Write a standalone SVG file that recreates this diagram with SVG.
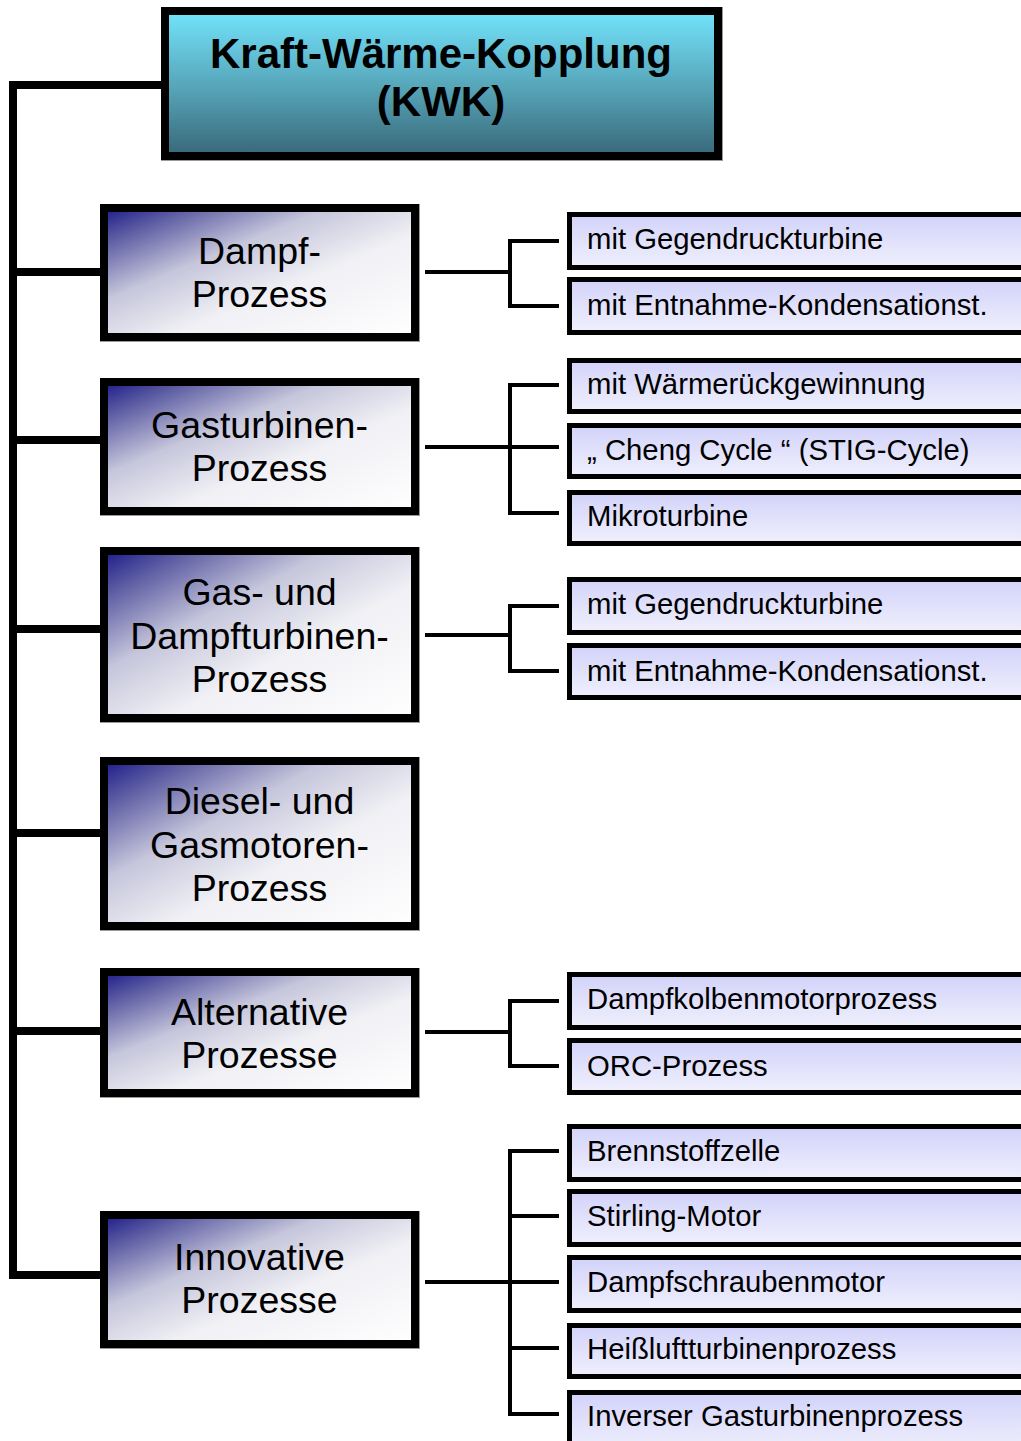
<svg xmlns="http://www.w3.org/2000/svg" width="1021" height="1441" viewBox="0 0 1021 1441">
<defs>
<linearGradient id="gTitle" x1="0" y1="0" x2="0" y2="1">
<stop offset="0" stop-color="#72e4fc"/>
<stop offset="0.5" stop-color="#58a8bc"/>
<stop offset="1" stop-color="#386878"/>
</linearGradient>
<linearGradient id="gMain" x1="0" y1="0" x2="1" y2="1">
<stop offset="0" stop-color="#1a1a8a"/>
<stop offset="0.13" stop-color="#5a5aa2"/>
<stop offset="0.36" stop-color="#c6c6dc"/>
<stop offset="0.6" stop-color="#f0f0f5"/>
<stop offset="1" stop-color="#ffffff"/>
</linearGradient>
<linearGradient id="gSub" x1="0" y1="0" x2="0" y2="1">
<stop offset="0" stop-color="#d2d2fa"/>
<stop offset="1" stop-color="#f0f0fd"/>
</linearGradient>
</defs>
<style>
.title{fill:url(#gTitle);stroke:#000;stroke-width:8}
.main{fill:url(#gMain);stroke:#000;stroke-width:8}
.sub{fill:url(#gSub);stroke:#000;stroke-width:5}
.shadow{fill:none;stroke:#9a9a9a;stroke-width:1}
.tt{font-family:"Liberation Sans",Arial,sans-serif;font-weight:bold;font-size:42px;text-anchor:middle;fill:#000}
.mt{font-family:"Liberation Sans",Arial,sans-serif;font-size:37.5px;text-anchor:middle;fill:#000}
.st{font-family:"Liberation Sans",Arial,sans-serif;font-size:29.3px;fill:#000}
.c{fill:none;stroke:#000;stroke-linecap:square}
.trunk{stroke-width:8}
.br{stroke-width:4}
</style>

<g id="connectors">
<path class="c trunk" d="M13 85 H161 M13 85 V1275 M13 272 H100 M13 440 H100 M13 629 H100 M13 833 H100 M13 1031 H100 M13 1275 H100"/>
<path class="c br" d="M427 272 H510 M510 241 V306 M510 241 H557 M510 306 H557"/>
<path class="c br" d="M427 447 H557 M510 385 V513 M510 385 H557 M510 513 H557"/>
<path class="c br" d="M427 635 H510 M510 606 V671 M510 606 H557 M510 671 H557"/>
<path class="c br" d="M427 1032 H510 M510 1001 V1066 M510 1001 H557 M510 1066 H557"/>
<path class="c br" d="M427 1282 H557 M510 1151 V1414 M510 1151 H557 M510 1216 H557 M510 1348 H557 M510 1414 H557"/>
</g>

<g id="kwk">
<rect class="shadow" x="161.5" y="7.5" width="561" height="153"/>
<rect class="title" x="165" y="11" width="553" height="145"/>
<text class="tt" x="441" y="68">Kraft-Wärme-Kopplung</text>
<text class="tt" x="441" y="116">(KWK)</text>
</g>

<g id="dampf">
<rect class="shadow" x="100.5" y="204.5" width="319" height="137"/>
<rect class="main" x="104" y="208" width="311" height="129"/>
<text class="mt" x="259.5" y="264">Dampf-</text>
<text class="mt" x="259.5" y="307">Prozess</text>
</g>

<g id="gasturbinen">
<rect class="shadow" x="100.5" y="378.5" width="319" height="137"/>
<rect class="main" x="104" y="382" width="311" height="129"/>
<text class="mt" x="259.5" y="438">Gasturbinen-</text>
<text class="mt" x="259.5" y="481">Prozess</text>
</g>

<g id="gud">
<rect class="shadow" x="100.5" y="547.5" width="319" height="175"/>
<rect class="main" x="104" y="551" width="311" height="167"/>
<text class="mt" x="259.5" y="605">Gas- und</text>
<text class="mt" x="259.5" y="649">Dampfturbinen-</text>
<text class="mt" x="259.5" y="692">Prozess</text>
</g>

<g id="diesel">
<rect class="shadow" x="100.5" y="757.5" width="319" height="173"/>
<rect class="main" x="104" y="761" width="311" height="165"/>
<text class="mt" x="259.5" y="814">Diesel- und</text>
<text class="mt" x="259.5" y="858">Gasmotoren-</text>
<text class="mt" x="259.5" y="901">Prozess</text>
</g>

<g id="alternative">
<rect class="shadow" x="100.5" y="968.5" width="319" height="129"/>
<rect class="main" x="104" y="972" width="311" height="121"/>
<text class="mt" x="259.5" y="1025">Alternative</text>
<text class="mt" x="259.5" y="1068">Prozesse</text>
</g>

<g id="innovative">
<rect class="shadow" x="100.5" y="1211.5" width="319" height="137"/>
<rect class="main" x="104" y="1215" width="311" height="129"/>
<text class="mt" x="259.5" y="1270">Innovative</text>
<text class="mt" x="259.5" y="1313">Prozesse</text>
</g>

<g id="d1">
<rect class="sub" x="569.5" y="214.5" width="470" height="53"/>
<text class="st" x="587" y="249">mit Gegendruckturbine</text>
</g>
<g id="d2">
<rect class="sub" x="569.5" y="279.5" width="470" height="53"/>
<text class="st" x="587" y="315">mit Entnahme-Kondensationst.</text>
</g>
<g id="g1">
<rect class="sub" x="569.5" y="360.5" width="470" height="51"/>
<text class="st" x="587" y="394">mit Wärmerückgewinnung</text>
</g>
<g id="g2">
<rect class="sub" x="569.5" y="425.5" width="470" height="51"/>
<text class="st" x="587" y="460">„ Cheng Cycle “ (STIG-Cycle)</text>
</g>
<g id="g3">
<rect class="sub" x="569.5" y="492.5" width="470" height="51"/>
<text class="st" x="587" y="526">Mikroturbine</text>
</g>
<g id="gd1">
<rect class="sub" x="569.5" y="579.5" width="470" height="53"/>
<text class="st" x="587" y="614">mit Gegendruckturbine</text>
</g>
<g id="gd2">
<rect class="sub" x="569.5" y="645.5" width="470" height="52"/>
<text class="st" x="587" y="681">mit Entnahme-Kondensationst.</text>
</g>
<g id="a1">
<rect class="sub" x="569.5" y="974.5" width="470" height="53"/>
<text class="st" x="587" y="1009">Dampfkolbenmotorprozess</text>
</g>
<g id="a2">
<rect class="sub" x="569.5" y="1040.5" width="470" height="52"/>
<text class="st" x="587" y="1076">ORC-Prozess</text>
</g>
<g id="i1">
<rect class="sub" x="569.5" y="1126.5" width="470" height="53"/>
<text class="st" x="587" y="1161">Brennstoffzelle</text>
</g>
<g id="i2">
<rect class="sub" x="569.5" y="1191.5" width="470" height="53"/>
<text class="st" x="587" y="1226">Stirling-Motor</text>
</g>
<g id="i3">
<rect class="sub" x="569.5" y="1257.5" width="470" height="53"/>
<text class="st" x="587" y="1292">Dampfschraubenmotor</text>
</g>
<g id="i4">
<rect class="sub" x="569.5" y="1325.5" width="470" height="51"/>
<text class="st" x="587" y="1359">Heißluftturbinenprozess</text>
</g>
<g id="i5">
<rect class="sub" x="569.5" y="1392.5" width="470" height="60"/>
<text class="st" x="587" y="1426">Inverser Gasturbinenprozess</text>
</g>
</svg>
